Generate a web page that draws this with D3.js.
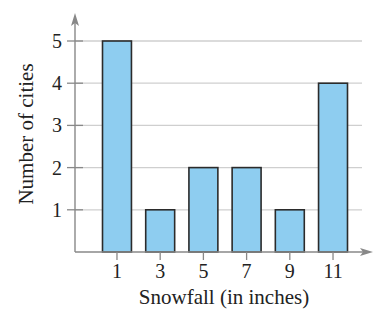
<!DOCTYPE html>
<html>
<head>
<meta charset="utf-8">
<script src="https://cdn.jsdelivr.net/npm/d3@7"></script>
<style>
  body { margin: 0; background: #fff; }
  text { font-family: "Liberation Serif", "Times New Roman", serif; fill: #222; }
</style>
</head>
<body>
<div id="chart"></div>
<script>
// data
const snowfall = ["1", "3", "5", "7", "9", "11"];
const cities = [5, 1, 2, 2, 1, 4];
const yTicks = [1, 2, 3, 4, 5];

const width = 374, height = 311;
const axisX = 75, axisY = 252;

let svg = d3.select("#chart")
    .append("svg")
    .attr("width", width)
    .attr("height", height);

let x = d3.scaleBand()
    .domain(snowfall)
    .range([102.5, 347.5])
    .paddingInner(0.33)
    .paddingOuter(0);

let y = d3.scaleLinear()
    .domain([0, 5])
    .range([axisY, 41]);

// gridlines
svg.append("g")
    .selectAll("line")
    .data(yTicks)
    .enter()
    .append("line")
    .attr("x1", axisX)
    .attr("x2", 362)
    .attr("y1", function(d) { return y(d); })
    .attr("y2", function(d) { return y(d); })
    .style("stroke", "#cfcfcf")
    .style("stroke-width", 1.3);

// y ticks (cross the axis)
svg.append("g")
    .selectAll("line")
    .data(yTicks)
    .enter()
    .append("line")
    .attr("x1", 67)
    .attr("x2", 83)
    .attr("y1", function(d) { return y(d); })
    .attr("y2", function(d) { return y(d); })
    .style("stroke", "#888")
    .style("stroke-width", 1.3);

svg.append("g")
    .selectAll("text")
    .data(yTicks)
    .enter()
    .append("text")
    .attr("x", 62)
    .attr("y", function(d) { return y(d) + 7; })
    .style("text-anchor", "end")
    .style("font-size", "20px")
    .text(function(d) { return d; });

// bars
let rows = snowfall.map(function(s, i) { return {label: s, value: cities[i]}; });

svg.append("g")
    .selectAll("rect")
    .data(rows)
    .enter()
    .append("rect")
    .attr("x", function(d) { return x(d.label); })
    .attr("y", function(d) { return y(d.value); })
    .attr("width", x.bandwidth())
    .attr("height", function(d) { return y(0) - y(d.value); })
    .style("fill", "#8ecdf0")
    .style("stroke", "#2b2b2b")
    .style("stroke-width", 1.6);

// x ticks
svg.append("g")
    .selectAll("line")
    .data(snowfall)
    .enter()
    .append("line")
    .attr("x1", function(d) { return x(d) + x.bandwidth() / 2; })
    .attr("x2", function(d) { return x(d) + x.bandwidth() / 2; })
    .attr("y1", axisY)
    .attr("y2", 260)
    .style("stroke", "#888")
    .style("stroke-width", 1.3);

svg.append("g")
    .selectAll("text")
    .data(snowfall)
    .enter()
    .append("text")
    .attr("x", function(d) { return x(d) + x.bandwidth() / 2; })
    .attr("y", 278)
    .style("text-anchor", "middle")
    .style("font-size", "20px")
    .text(function(d) { return d; });

// axes with arrowheads
svg.append("line")
    .attr("x1", axisX).attr("x2", axisX)
    .attr("y1", axisY).attr("y2", 18)
    .style("stroke", "#888")
    .style("stroke-width", 1.4);

svg.append("line")
    .attr("x1", axisX).attr("x2", 368)
    .attr("y1", axisY).attr("y2", axisY)
    .style("stroke", "#888")
    .style("stroke-width", 1.4);

svg.append("path")
    .attr("d", `M${axisX},13 L${axisX + 4},26 L${axisX},23 L${axisX - 4},26 Z`)
    .style("fill", "#888");

svg.append("path")
    .attr("d", `M373,${axisY} L360,${axisY - 4} L363,${axisY} L360,${axisY + 4} Z`)
    .style("fill", "#888");

// axis titles
svg.append("text")
    .attr("x", 224)
    .attr("y", 304)
    .style("text-anchor", "middle")
    .style("font-size", "21px")
    .text("Snowfall (in inches)");

svg.append("text")
    .attr("transform", `translate(33, 134) rotate(-90)`)
    .style("text-anchor", "middle")
    .style("font-size", "21px")
    .text("Number of cities");
</script>
</body>
</html>
